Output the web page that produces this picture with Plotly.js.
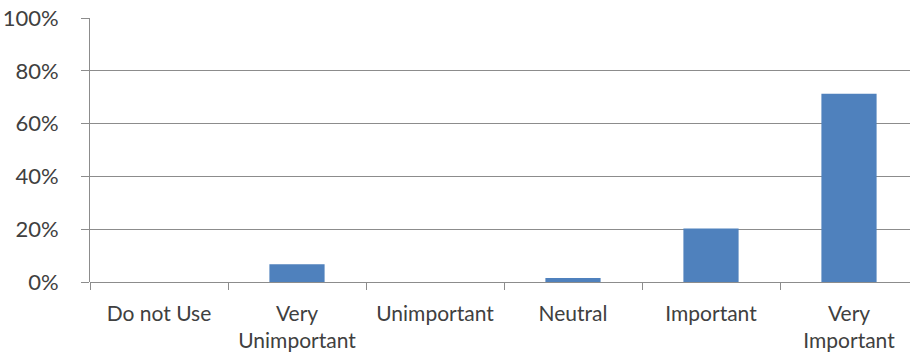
<!DOCTYPE html>
<html>
<head>
<meta charset="utf-8">
<script src="https://cdn.plot.ly/plotly-3.0.1.min.js"></script>
<style>html,body{margin:0;padding:0;overflow:hidden;background:#fff}</style>
</head>
<body>
<div id="chart" style="width:911px;height:358px"></div>
<script>
const categories = ["Do not Use", "Very<br>Unimportant", "Unimportant", "Neutral", "Important", "Very<br>Important"];
const values = [0, 0.067, 0, 0.015, 0.203, 0.713];
const yTickVals = [0, 0.2, 0.4, 0.6, 0.8, 1.0];
const yTickText = ["0%", "20%", "40%", "60%", "80%", "100%"];

const trace = {
  type: "bar",
  x: categories,
  y: values,
  width: 0.4,
  marker: {color: "#4F81BD", line: {color: "#4F81BD", width: 0}},
  hoverinfo: "none"
};

const layout = {
  width: 911, height: 358,
  margin: {l: 90, r: 1, t: 18, b: 76},
  paper_bgcolor: "#fff", plot_bgcolor: "#fff",
  showlegend: false,
  bargap: 0.6,
  font: {family: "Lato, 'Open Sans', sans-serif", size: 21, color: "#404040"},
  xaxis: {
    type: "category",
    range: [-0.5, 5.442],
    showgrid: false,
    showline: false,
    zeroline: false,
    ticks: "outside",
    tickson: "boundaries",
    ticklen: 7,
    tickcolor: "#8c8c8c",
    tickwidth: 1,
    ticklabelstandoff: 17,
    tickfont: {size: 21, color: "#404040"}
  },
  yaxis: {
    range: [0, 1],
    tickvals: yTickVals,
    ticktext: yTickText,
    showgrid: true,
    gridcolor: "#8c8c8c",
    gridwidth: 1,
    zeroline: true,
    zerolinecolor: "#8c8c8c",
    zerolinewidth: 1,
    showline: true,
    linecolor: "#8c8c8c",
    linewidth: 1,
    ticks: "outside",
    ticklen: 8,
    tickcolor: "#8c8c8c",
    ticklabelstandoff: 18,
    tickfont: {size: 22, color: "#404040"}
  }
};

Plotly.newPlot("chart", [trace], layout, {displayModeBar: false, staticPlot: true});
</script>
</body>
</html>
